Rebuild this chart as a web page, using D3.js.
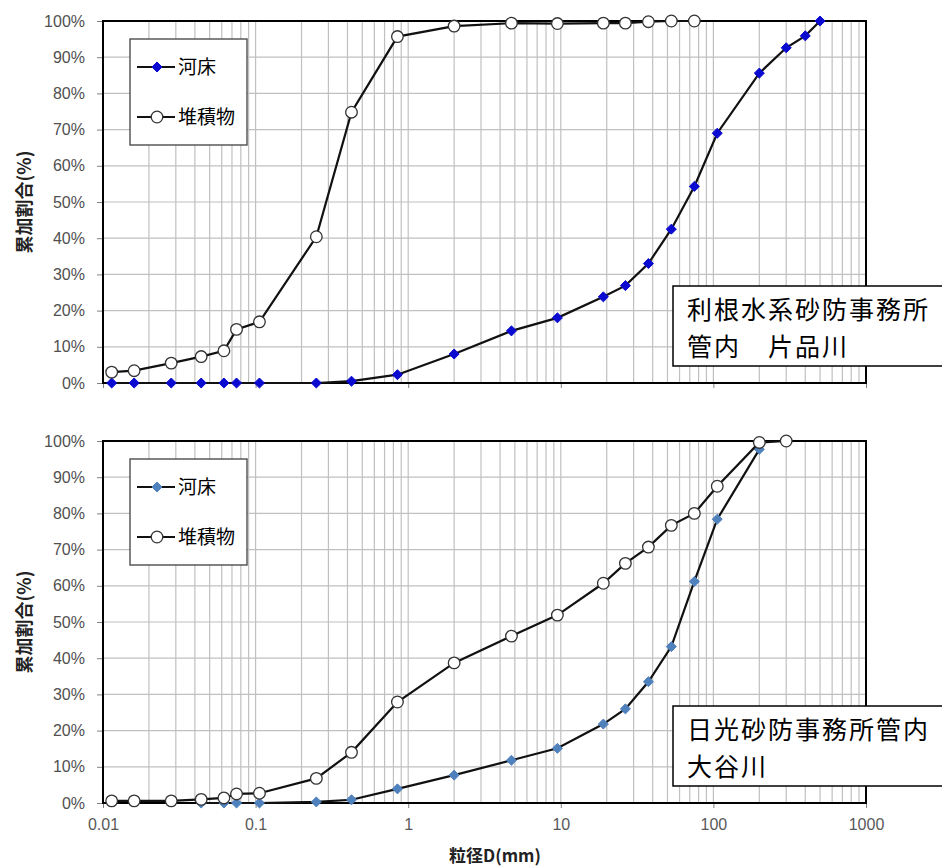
<!DOCTYPE html>
<html>
<head>
<meta charset="utf-8">
<script src="https://cdn.jsdelivr.net/npm/d3@7/dist/d3.min.js"></script>
<style>
  html, body { margin: 0; padding: 0; background: #fff; }
  svg { display: block; }
</style>
</head>
<body>
<div id="chart"></div>
<script>
// Sieve / hydrometer grain sizes (mm)
const sizesTop = [0.0114, 0.016, 0.028, 0.044, 0.062, 0.075, 0.106, 0.25, 0.425, 0.85,
  2, 4.75, 9.5, 19, 26.5, 37.5, 53, 75, 106, 200, 300, 400, 500];
// 片品川: riverbed (河床) cumulative passing %
const katashinaBed = [0, 0, 0, 0, 0, 0, 0, 0, 0.5, 2.3,
  8, 14.4, 18, 23.8, 26.9, 33, 42.5, 54.3, 69, 85.6, 92.6, 95.9, 100];
// 片品川: deposit (堆積物) sizes and cumulative passing %
const katashinaDepSizes = [0.0114, 0.016, 0.028, 0.044, 0.062, 0.075, 0.106, 0.25, 0.425, 0.85,
  2, 4.75, 9.5, 19, 26.5, 37.5, 53, 75];
const katashinaDep = [3.0, 3.4, 5.5, 7.3, 8.9, 14.8, 16.9, 40.4, 74.8, 95.7,
  98.6, 99.4, 99.3, 99.4, 99.4, 99.8, 100, 100];

// 大谷川: riverbed (河床)
const oyaBedSizes = [0.044, 0.062, 0.075, 0.106, 0.25, 0.425, 0.85, 2, 4.75, 9.5,
  19, 26.5, 37.5, 53, 75, 106, 200];
const oyaBed = [0, 0, 0, 0, 0.3, 0.9, 3.9, 7.7, 11.8, 15.1,
  21.8, 26.0, 33.5, 43.2, 61.2, 78.4, 97.7];
// 大谷川: deposit (堆積物)
const oyaDepSizes = [0.0114, 0.016, 0.028, 0.044, 0.062, 0.075, 0.106, 0.25, 0.425, 0.85,
  2, 4.75, 9.5, 19, 26.5, 37.5, 53, 75, 106, 200, 300];
const oyaDep = [0.6, 0.6, 0.6, 1.0, 1.4, 2.5, 2.7, 6.8, 14.0, 27.9,
  38.7, 46.1, 51.9, 60.7, 66.2, 70.7, 76.7, 80.0, 87.5, 99.6, 100];

const xTickValues = [0.01, 0.1, 1, 10, 100, 1000];
const xTickLabels = ["0.01", "0.1", "1", "10", "100", "1000"];
const yTickValues = [0, 10, 20, 30, 40, 50, 60, 70, 80, 90, 100];
const seriesNames = ["河床", "堆積物"];
const panelTitles = [["利根水系砂防事務所", "管内\u3000片品川"], ["日光砂防事務所管内", "大谷川"]];
const yTitle = "累加割合(%)";
const xTitle = "粒径D(mm)";

const W = 942, H = 868;
const plotLeft = 103, plotRight = 866, plotH = 362;
const panelTops = [21, 441];
const bedColors = ["#0a0ad0", "#4f81bd"];

const cjk = "'Noto Sans CJK JP', 'Noto Sans', sans-serif";
const num = "'Liberation Sans', Arial, sans-serif";

const svg = d3.select("#chart").append("svg")
  .attr("width", W).attr("height", H);

const x = d3.scaleLog().domain([0.01, 1000]).range([plotLeft, plotRight]);

const panels = [
  { bed: { xs: sizesTop, ys: katashinaBed }, dep: { xs: katashinaDepSizes, ys: katashinaDep } },
  { bed: { xs: oyaBedSizes, ys: oyaBed }, dep: { xs: oyaDepSizes, ys: oyaDep } }
];

const diamond = d3.symbol().type(d3.symbolDiamond2 || d3.symbolSquare).size(64);

panels.forEach((p, i) => {
  const top = panelTops[i];
  const y = d3.scaleLinear().domain([0, 100]).range([top + plotH, top]);
  const g = svg.append("g");

  // grid: every log minor/major line and every 10%
  g.append("g").selectAll("line").data(x.ticks())
    .join("line")
    .attr("x1", d => x(d)).attr("x2", d => x(d))
    .attr("y1", top).attr("y2", top + plotH)
    .attr("stroke", "#c0c0c0").attr("stroke-width", 1.2);
  g.append("g").selectAll("line").data(yTickValues)
    .join("line")
    .attr("x1", plotLeft).attr("x2", plotRight)
    .attr("y1", d => y(d)).attr("y2", d => y(d))
    .attr("stroke", "#c0c0c0").attr("stroke-width", 1.2);

  // y axis
  const ya = g.append("g").attr("transform", `translate(${plotLeft},0)`)
    .call(d3.axisLeft(y).tickValues(yTickValues).tickFormat(d => d + "%").tickSize(6).tickPadding(12));
  ya.select(".domain").remove();
  ya.selectAll(".tick line").attr("stroke", "#808080");
  ya.selectAll(".tick text").attr("font-family", num).attr("font-size", 16).attr("fill", "#505050");

  // x axis
  const xa = g.append("g").attr("transform", `translate(0,${top + plotH})`)
    .call(d3.axisBottom(x).tickValues(xTickValues)
      .tickFormat(i === 1 ? (d, k) => xTickLabels[k] : () => "")
      .tickSize(5).tickPadding(11));
  xa.select(".domain").remove();
  xa.selectAll(".tick line").attr("stroke", "#808080");
  xa.selectAll(".tick text").attr("font-family", num).attr("font-size", 16).attr("fill", "#595959");

  // plot frame
  g.append("rect").attr("x", plotLeft).attr("y", top)
    .attr("width", plotRight - plotLeft).attr("height", plotH)
    .attr("fill", "none").attr("stroke", "#000").attr("stroke-width", 2);

  const line = d3.line().x(d => x(d[0])).y(d => y(d[1]));

  // 河床 series
  const bedPts = p.bed.xs.map((v, k) => [v, p.bed.ys[k]]);
  g.append("path").datum(bedPts).attr("d", line)
    .attr("fill", "none").attr("stroke", "#111").attr("stroke-width", 2.2);
  g.append("g").selectAll("path").data(bedPts).join("path")
    .attr("d", diamond)
    .attr("transform", d => `translate(${x(d[0])},${y(d[1])})`)
    .attr("fill", bedColors[i]).attr("stroke", bedColors[i]).attr("stroke-width", 1);

  // 堆積物 series
  const depPts = p.dep.xs.map((v, k) => [v, p.dep.ys[k]]);
  g.append("path").datum(depPts).attr("d", line)
    .attr("fill", "none").attr("stroke", "#111").attr("stroke-width", 2.2);
  g.append("g").selectAll("circle").data(depPts).join("circle")
    .attr("cx", d => x(d[0])).attr("cy", d => y(d[1])).attr("r", 5.8)
    .attr("fill", "#fff").attr("stroke", "#333").attr("stroke-width", 1.3);

  // legend
  const lg = g.append("g");
  lg.append("rect").attr("x", 130).attr("y", top + 18).attr("width", 117).attr("height", 106)
    .attr("fill", "#fff").attr("stroke", "#404040").attr("stroke-width", 1.3);
  const rows = [top + 46, top + 96];
  rows.forEach((ry, k) => {
    lg.append("line").attr("x1", 137).attr("x2", 175).attr("y1", ry).attr("y2", ry)
      .attr("stroke", "#111").attr("stroke-width", 2);
    if (k === 0) {
      lg.append("path").attr("d", diamond).attr("transform", `translate(157,${ry})`)
        .attr("fill", bedColors[i]).attr("stroke", bedColors[i]);
    } else {
      lg.append("circle").attr("cx", 157).attr("cy", ry).attr("r", 5.8)
        .attr("fill", "#fff").attr("stroke", "#333").attr("stroke-width", 1.3);
    }
    lg.append("text").attr("x", 178).attr("y", ry).attr("dy", "0.36em")
      .attr("font-family", cjk).attr("font-size", 19).attr("fill", "#000")
      .text(seriesNames[k]);
  });

  // site label box (two lines)
  const bx = g.append("g");
  bx.append("rect").attr("x", 673).attr("y", top + 265).attr("width", 290).attr("height", 80)
    .attr("fill", "#fff").attr("stroke", "#000").attr("stroke-width", 1.5);
  bx.append("text")
    .attr("font-family", cjk).attr("font-size", 25).attr("letter-spacing", 2).attr("fill", "#000")
    .selectAll("tspan").data(panelTitles[i]).join("tspan")
    .attr("x", 687).attr("y", (t, k) => top + 298 + k * 36.5)
    .text(t => t);

  // y title
  g.append("text")
    .attr("transform", `translate(23,${top + plotH / 2}) rotate(-90)`)
    .attr("text-anchor", "middle").attr("dominant-baseline", "central")
    .attr("font-family", cjk).attr("font-weight", "bold").attr("font-size", 18).attr("fill", "#222")
    .text(yTitle);
});

// x title
svg.append("text").attr("x", 495).attr("y", 862).attr("text-anchor", "middle")
  .attr("font-family", cjk).attr("font-weight", "bold").attr("font-size", 17).attr("fill", "#222")
  .text(xTitle);
</script>
</body>
</html>
